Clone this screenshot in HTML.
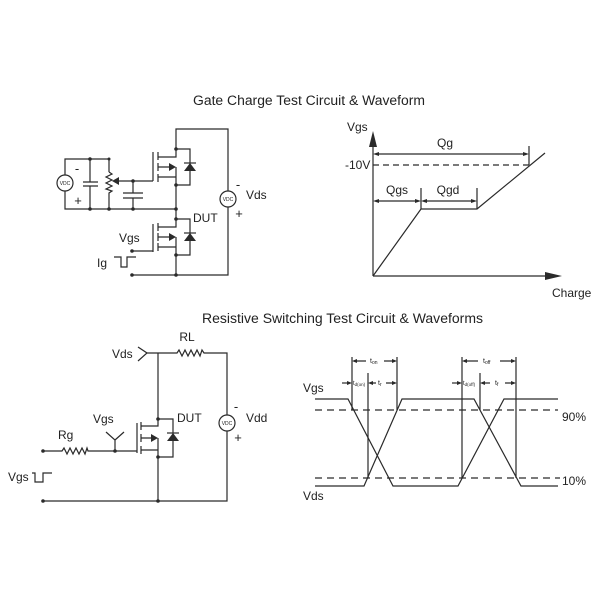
<!DOCTYPE html>
<html><head><meta charset="utf-8"><style>
html,body{margin:0;padding:0;background:#fff;}
svg{display:block;}
text{font-family:"Liberation Sans",Arial,sans-serif;fill:#222;}
</style></head><body>
<svg width="600" height="600" viewBox="0 0 600 600" xmlns="http://www.w3.org/2000/svg">
<rect width="600" height="600" fill="#fff"/>

<!-- Titles -->
<text x="193" y="105" font-size="13.5" textLength="232" lengthAdjust="spacingAndGlyphs">Gate Charge Test Circuit &amp; Waveform</text>
<text x="202" y="323" font-size="13.5" textLength="281" lengthAdjust="spacingAndGlyphs">Resistive Switching Test Circuit &amp; Waveforms</text>

<g fill="none" stroke="#2a2a2a" stroke-width="1.2">
<!-- ===== Top circuit ===== -->
<!-- right loop -->
<path d="M176,149 V129 H228 V191"/>
<circle cx="228" cy="199" r="8"/>
<path d="M228,207 V275 H132"/>
<!-- upper mosfet -->
<path d="M176,149 V157 H158 M158,167 H170 M158,177 H176 M176,167 V209 V219"/>
<path d="M158,152 V160 M158,163 V171 M158,174 V182"/>
<path d="M153,152 V181"/>
<path d="M176,149 H190 V185 H176"/>
<path d="M184,163 H196"/>
<!-- lower mosfet -->
<path d="M176,219 V227 H158 M158,237 H170 M158,247 H176 M176,237 V275"/>
<path d="M158,223 V231 M158,233 V241 M158,243 V251"/>
<path d="M153,224 V252"/>
<path d="M176,219 H190 V255 H176"/>
<path d="M184,233 H196"/>
<path d="M132,251 H153"/>
<!-- left part -->
<path d="M65,175 V159 H109 V172"/>
<circle cx="65" cy="183" r="8"/>
<path d="M65,191 V209 H176"/>
<path d="M90,159 V182 M83,182 H98 M83,186 H98 M90,186 V209"/>
<path d="M109,172 L112,174 L106,177 L112,180 L106,183 L112,186 L106,189 L112,191 L109,193 V209"/>
<path d="M118,181 H153"/>
<path d="M133,181 V193 M123,193 H143 M123,198 H143 M133,198 V209"/>
<!-- Ig pulse -->
<path d="M114,257 H121 V267 H127 V257 H136"/>

<!-- ===== Gate charge chart ===== -->
<path d="M373,276 V146 M373,276 H546"/>
<path d="M373,165 H529" stroke-dasharray="6,4"/>
<path d="M378,154 H524 M529,146 V165"/>
<path d="M373,276 L421,209 H477 L545,153"/>
<path d="M378,201 H416 M426,201 H472 M421,188 V209 M477,188 V209"/>

<!-- ===== Bottom circuit ===== -->
<path d="M138,347 L147,353 L138,361"/>
<path d="M147,353 H177 L179,350 L182,356 L185,350 L188,356 L191,350 L194,356 L197,350 L200,356 L202,350 L204,353 H227 V415"/>
<circle cx="227" cy="423" r="8"/>
<path d="M227,431 V501 H43"/>
<path d="M158,353 V419"/>
<path d="M158,419 V426 H141 M141,438 H152 M141,450 H158 M158,438 V501"/>
<path d="M141,422 V430 M141,434 V442 M141,446 V454"/>
<path d="M137,423 V453"/>
<path d="M158,419 H173 V457 H158"/>
<path d="M167,433 H179"/>
<path d="M43,451 H62 L64,448 L67,454 L70,448 L73,454 L76,448 L79,454 L82,448 L85,454 L87,448 L88,451 H137"/>
<path d="M115,451 V440 L106,432 M115,440 L124,432"/>
<path d="M32,473 H35 V482 H43 V473 H52"/>

<!-- ===== Switching waveforms ===== -->
<path d="M315,399 H348 L393,486 H458 L504,399 H558"/>
<path d="M315,486 H364 L402,399 H474 L521,486 H558"/>
<path d="M315,410 H558 M315,478 H560" stroke-dasharray="7,5"/>
<path d="M352,357 V410 M368,373 V478 M397,357 V410"/>
<path d="M462,357 V478 M480,373 V410 M516,357 V478"/>
<path d="M356,361 H366 M384,361 H393"/>
<path d="M342,383 H348"/>
<path d="M372,383 H376 M386,383 H393"/>
<path d="M466,361 H478 M500,361 H512"/>
<path d="M452,383 H458"/>
<path d="M484,383 H490 M505,383 H512"/>
</g>

<!-- filled items -->
<g fill="#2a2a2a" stroke="none">
<!-- top circuit arrows/diodes -->
<polygon points="169,163 169,171 176,167"/>
<polygon points="184,171 196,171 190,163"/>
<polygon points="169,233 169,241 176,237"/>
<polygon points="184,241 196,241 190,233"/>
<polygon points="112,181 119,177 119,185"/>
<!-- chart arrows -->
<polygon points="373,131 369,147 377,147"/>
<polygon points="562,276 545,272 545,280"/>
<polygon points="373,154 379,152 379,156"/>
<polygon points="529,154 523,152 523,156"/>
<polygon points="373,201 379,199 379,203"/>
<polygon points="421,201 415,199 415,203"/>
<polygon points="421,201 427,199 427,203"/>
<polygon points="477,201 471,199 471,203"/>
<!-- bottom circuit -->
<polygon points="151,434 151,442 158,438"/>
<polygon points="167,441 179,441 173,433"/>
<!-- switching dimension arrows -->
<polygon points="352,361 357,359 357,363"/>
<polygon points="397,361 392,359 392,363"/>
<polygon points="352,383 347,381 347,385"/>
<polygon points="368,383 373,381 373,385"/>
<polygon points="397,383 392,381 392,385"/>
<polygon points="462,361 467,359 467,363"/>
<polygon points="516,361 511,359 511,363"/>
<polygon points="462,383 457,381 457,385"/>
<polygon points="480,383 485,381 485,385"/>
<polygon points="516,383 511,381 511,385"/>
<!-- dots -->
<circle cx="90" cy="159" r="1.8"/>
<circle cx="109" cy="159" r="1.5"/>
<circle cx="90" cy="209" r="1.8"/>
<circle cx="109" cy="209" r="1.8"/>
<circle cx="133" cy="209" r="1.8"/>
<circle cx="176" cy="209" r="1.8"/>
<circle cx="133" cy="181" r="1.8"/>
<circle cx="176" cy="149" r="1.8"/>
<circle cx="176" cy="185" r="1.8"/>
<circle cx="176" cy="219" r="1.8"/>
<circle cx="176" cy="255" r="1.8"/>
<circle cx="176" cy="275" r="1.8"/>
<circle cx="132" cy="275" r="1.8"/>
<circle cx="132" cy="251" r="1.8"/>
<circle cx="158" cy="419" r="1.8"/>
<circle cx="158" cy="457" r="1.8"/>
<circle cx="158" cy="501" r="1.8"/>
<circle cx="43" cy="501" r="1.8"/>
<circle cx="43" cy="451" r="1.8"/>
<circle cx="115" cy="451" r="1.8"/>
</g>

<!-- labels top circuit -->
<text x="65" y="185" font-size="5" text-anchor="middle">VDC</text>
<text x="228" y="201" font-size="5" text-anchor="middle">VDC</text>
<text x="227" y="425" font-size="5" text-anchor="middle">VDC</text>
<text x="77" y="173" font-size="13" text-anchor="middle">-</text>
<text x="78" y="205" font-size="13" text-anchor="middle">+</text>
<text x="238" y="189" font-size="13" text-anchor="middle">-</text>
<text x="239" y="218" font-size="13" text-anchor="middle">+</text>
<text x="246" y="199" font-size="12">Vds</text>
<text x="193" y="222" font-size="12">DUT</text>
<text x="119" y="242" font-size="12">Vgs</text>
<text x="97" y="267" font-size="12">Ig</text>

<!-- chart labels -->
<text x="347" y="131" font-size="12">Vgs</text>
<text x="345" y="169" font-size="12">-10V</text>
<text x="445" y="147" font-size="12" text-anchor="middle">Qg</text>
<text x="397" y="194" font-size="12" text-anchor="middle">Qgs</text>
<text x="448" y="194" font-size="12" text-anchor="middle">Qgd</text>
<text x="552" y="297" font-size="12">Charge</text>

<!-- bottom circuit labels -->
<text x="187" y="341" font-size="12" text-anchor="middle">RL</text>
<text x="112" y="358" font-size="12">Vds</text>
<text x="177" y="422" font-size="12">DUT</text>
<text x="93" y="423" font-size="12">Vgs</text>
<text x="58" y="439" font-size="12">Rg</text>
<text x="8" y="481" font-size="12">Vgs</text>
<text x="236" y="411" font-size="13" text-anchor="middle">-</text>
<text x="238" y="442" font-size="13" text-anchor="middle">+</text>
<text x="246" y="422" font-size="12">Vdd</text>

<!-- switching labels -->
<text x="303" y="392" font-size="12">Vgs</text>
<text x="303" y="500" font-size="12">Vds</text>
<text x="562" y="421" font-size="12">90%</text>
<text x="562" y="485" font-size="12">10%</text>
<text x="370" y="363" font-size="7">t<tspan font-size="5" dy="1">on</tspan></text>
<text x="353" y="385" font-size="6">t<tspan font-size="4.5" dy="1">d(on)</tspan></text>
<text x="378" y="385" font-size="7">t<tspan font-size="5" dy="1">r</tspan></text>
<text x="483" y="363" font-size="7">t<tspan font-size="5" dy="1">off</tspan></text>
<text x="463" y="385" font-size="6">t<tspan font-size="4.5" dy="1">d(off)</tspan></text>
<text x="495" y="385" font-size="7">t<tspan font-size="5" dy="1">f</tspan></text>
</svg>
</body></html>
